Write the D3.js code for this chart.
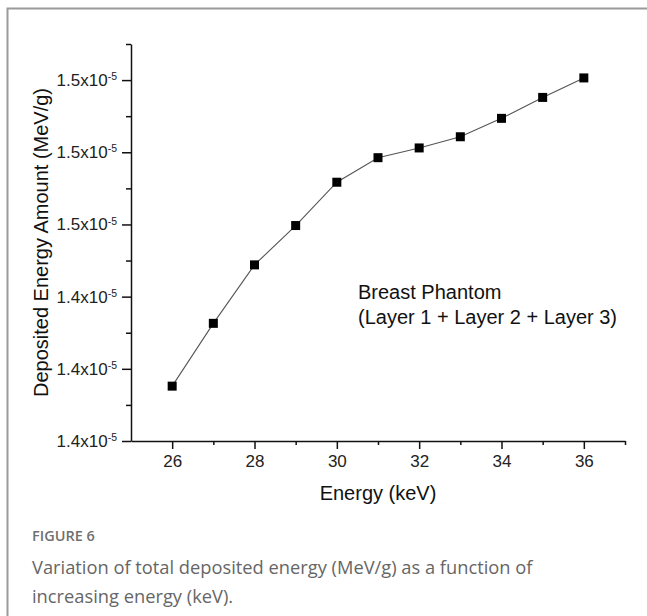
<!DOCTYPE html>
<html>
<head>
<meta charset="utf-8">
<script src="https://cdn.jsdelivr.net/npm/d3@7"></script>
<style>
  body { margin: 0; background: #fff; }
  text { font-family: "Liberation Sans", Arial, sans-serif; }
</style>
</head>
<body>
<script>
// data (deposited energy in units of 1e-5 MeV/g)
var energies = [26, 27, 28, 29, 30, 31, 32, 33, 34, 35, 36];
var deposited = [1.4152, 1.4326, 1.4488, 1.4597, 1.4717, 1.4785, 1.4812, 1.4843, 1.4894, 1.4952, 1.5006];
var xMajor = [26, 28, 30, 32, 34, 36],
    xMinor = [27, 29, 31, 33, 35, 37];
var yMajor = [1.40, 1.42, 1.44, 1.46, 1.48, 1.50],
    yMinor = [1.41, 1.43, 1.45, 1.47, 1.49, 1.51];
var noteLines = ["Breast Phantom", "(Layer 1 + Layer 2 + Layer 3)"];
var captionLines = ["Variation of total deposited energy (MeV/g) as a function of",
                    "increasing energy (keV)."];

var W = 647, H = 616;

var svg = d3.select("body")
    .append("svg")
    .attr("width", W)
    .attr("height", H);

// card frame (left + top edge)
svg.append("path")
    .attr("d", "M7.5," + H + "V8.5H" + W)
    .attr("fill", "none")
    .attr("stroke", "#9a9a9a")
    .attr("stroke-width", 2);

var x = d3.scaleLinear().domain([25, 37]).range([131, 625]),
    y = d3.scaleLinear().domain([1.40, 1.51]).range([441, 44]);

var data = energies.map(function (e, i) { return { e: e, v: deposited[i] }; });

// x axis
var xg = svg.append("g").attr("transform", "translate(0," + y(1.40) + ")");
xg.call(d3.axisBottom(x).tickValues(xMajor).tickSize(8).tickSizeOuter(0).tickPadding(6));
svg.append("g").attr("transform", "translate(0," + y(1.40) + ")")
    .call(d3.axisBottom(x).tickValues(xMinor).tickSize(4).tickFormat(""))
    .select(".domain").remove();

// y axis
var yg = svg.append("g").attr("transform", "translate(" + x(25) + ",0)");
yg.call(d3.axisLeft(y).tickValues(yMajor).tickSize(9).tickSizeOuter(0).tickPadding(5)
    .tickFormat(function (d) { return d3.format(".1f")(d); }));
svg.append("g").attr("transform", "translate(" + x(25) + ",0)")
    .call(d3.axisLeft(y).tickValues(yMinor).tickSize(5).tickFormat(""))
    .select(".domain").remove();

svg.selectAll(".domain, .tick line")
    .attr("stroke", "#111")
    .attr("stroke-width", 1.5);

xg.selectAll(".tick text")
    .attr("font-size", 17)
    .attr("fill", "#222");

yg.selectAll(".tick text")
    .attr("font-size", 17)
    .attr("fill", "#222")
    .each(function (d) {
        var t = d3.select(this), m = t.text();
        t.text("");
        t.append("tspan").text(m + "x10");
        t.append("tspan").attr("font-size", 10.5).attr("dy", "-0.55em").text("-5");
    });

// series
svg.append("path")
    .datum(data)
    .attr("fill", "none")
    .attr("stroke", "#555")
    .attr("stroke-width", 1.1)
    .attr("d", d3.line().x(function (d) { return x(d.e); }).y(function (d) { return y(d.v); }));

svg.selectAll("rect.pt")
    .data(data)
    .enter().append("rect")
    .attr("class", "pt")
    .attr("x", function (d) { return x(d.e) - 4.5; })
    .attr("y", function (d) { return y(d.v) - 4.5; })
    .attr("width", 9)
    .attr("height", 9)
    .attr("fill", "#000");

// axis titles
svg.append("text")
    .attr("transform", "translate(48," + (y(1.40) + y(1.51)) / 2 + ") rotate(-90)")
    .attr("text-anchor", "middle")
    .attr("font-size", 20)
    .attr("fill", "#111")
    .text("Deposited Energy Amount (MeV/g)");

svg.append("text")
    .attr("x", (x(25) + x(37)) / 2)
    .attr("y", 500)
    .attr("text-anchor", "middle")
    .attr("font-size", 20)
    .attr("fill", "#111")
    .text("Energy (keV)");

// annotation
svg.selectAll("text.note")
    .data(noteLines)
    .enter().append("text")
    .attr("class", "note")
    .attr("x", 358)
    .attr("y", function (d, i) { return 299 + i * 25; })
    .attr("font-size", 20)
    .attr("fill", "#111")
    .text(function (d) { return d; });

// caption
svg.append("text")
    .attr("x", 32)
    .attr("y", 541)
    .style("font-family", "'Open Sans', sans-serif")
    .attr("font-size", 14.5)
    .attr("font-weight", 600)
    .attr("fill", "#707070")
    .text("FIGURE 6");

svg.selectAll("text.cap")
    .data(captionLines)
    .enter().append("text")
    .attr("class", "cap")
    .attr("x", 32)
    .attr("y", function (d, i) { return 574 + i * 29; })
    .style("font-family", "'Open Sans', sans-serif")
    .attr("font-size", 18.3)
    .attr("fill", "#666")
    .text(function (d) { return d; });
</script>
</body>
</html>
